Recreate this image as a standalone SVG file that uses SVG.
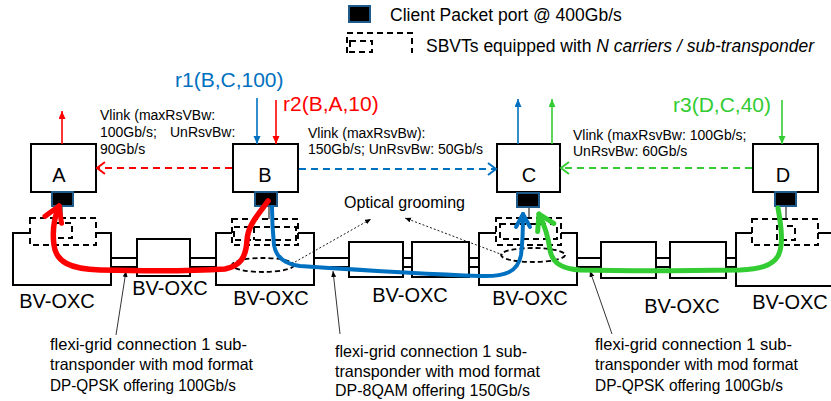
<svg xmlns="http://www.w3.org/2000/svg" width="831" height="401" viewBox="0 0 831 401">
<style>
text{font-family:"Liberation Sans",Arial,sans-serif;fill:#000;}
.box{fill:#fff;stroke:#000;stroke-width:2;}
.port{fill:#000;stroke:#1f5b8a;stroke-width:2;}
.oxc{fill:none;stroke:#000;stroke-width:2;}
.sbox{fill:#fff;stroke:#000;stroke-width:2;}
.sbvt{fill:none;stroke:#000;stroke-width:2;stroke-dasharray:6 4;}
.tick{stroke:#000;stroke-width:1;}
.nl{font-size:20px;text-anchor:middle;}
.oxl{font-size:20px;text-anchor:middle;}
.vl{font-size:14px;}
.fx{font-size:16.5px;}
.rq{font-size:21px;}
.leg{font-size:17.5px;}
.vr{stroke:#ff0000;stroke-width:1.6;fill:none;}
.vb{stroke:#0070c0;stroke-width:1.6;fill:none;}
.vg{stroke:#33cc33;stroke-width:1.6;fill:none;}
.dr{stroke:#ff0000;stroke-width:2;fill:none;stroke-dasharray:7 5;}
.db{stroke:#0070c0;stroke-width:2;fill:none;stroke-dasharray:7 5;}
.dg{stroke:#33cc33;stroke-width:2;fill:none;stroke-dasharray:7 5;}
.tr{stroke:#ff0000;stroke-width:5.5;fill:none;stroke-linecap:round;}
.tb{stroke:#0070c0;stroke-width:4;fill:none;stroke-linecap:round;}
.tg{stroke:#33cc33;stroke-width:5;fill:none;stroke-linecap:round;}
.dot{stroke:#000;stroke-width:0.9;fill:none;stroke-dasharray:2 2;}
.call{stroke:#000;stroke-width:0.8;fill:none;}
.ell{fill:none;stroke:#000;stroke-width:1.8;stroke-dasharray:5 3;}
</style>
<defs>
<marker id="triR" markerUnits="userSpaceOnUse" markerWidth="10" markerHeight="10" refX="8" refY="3.5" orient="auto"><path d="M0,0 L8,3.5 L0,7 z" fill="#ff0000"/></marker>
<marker id="triB" markerUnits="userSpaceOnUse" markerWidth="10" markerHeight="10" refX="8" refY="3.5" orient="auto"><path d="M0,0 L8,3.5 L0,7 z" fill="#0070c0"/></marker>
<marker id="triG" markerUnits="userSpaceOnUse" markerWidth="10" markerHeight="10" refX="8" refY="3.5" orient="auto"><path d="M0,0 L8,3.5 L0,7 z" fill="#33cc33"/></marker>
<marker id="triK" markerUnits="userSpaceOnUse" markerWidth="8" markerHeight="8" refX="6" refY="2.5" orient="auto"><path d="M0,0 L6,2.5 L0,5 z" fill="#000"/></marker>
<marker id="chR" markerUnits="userSpaceOnUse" markerWidth="12" markerHeight="16" refX="10" refY="7" orient="auto"><path d="M2,1 L10,7 L2,13" fill="none" stroke="#ff0000" stroke-width="2"/></marker>
<marker id="chB" markerUnits="userSpaceOnUse" markerWidth="12" markerHeight="16" refX="10" refY="7" orient="auto"><path d="M2,1 L10,7 L2,13" fill="none" stroke="#0070c0" stroke-width="2"/></marker>
<marker id="chG" markerUnits="userSpaceOnUse" markerWidth="12" markerHeight="16" refX="10" refY="7" orient="auto"><path d="M2,1 L10,7 L2,13" fill="none" stroke="#33cc33" stroke-width="2"/></marker>
<marker id="bigR" markerUnits="userSpaceOnUse" markerWidth="24" markerHeight="26" refX="19" refY="12" orient="auto"><path d="M4,3 L19,12 L4,21" fill="none" stroke="#ff0000" stroke-width="5" stroke-linecap="round" stroke-linejoin="round"/></marker>
<marker id="bigB" markerUnits="userSpaceOnUse" markerWidth="24" markerHeight="26" refX="18" refY="12" orient="auto"><path d="M5,5 L18,12 L5,19" fill="none" stroke="#0070c0" stroke-width="4" stroke-linecap="round" stroke-linejoin="round"/></marker>
<marker id="bigG" markerUnits="userSpaceOnUse" markerWidth="24" markerHeight="26" refX="19" refY="12" orient="auto"><path d="M4,3 L19,12 L4,21" fill="none" stroke="#33cc33" stroke-width="5" stroke-linecap="round" stroke-linejoin="round"/></marker>
</defs>
<rect width="831" height="401" fill="#fff"/>

<g id="legend">
<rect x="349" y="6" width="21" height="16" class="port"/>
<text x="390" y="21" class="leg">Client Packet port @ 400Gb/s</text>
<path d="M347,53 V33 H412 V53" class="sbvt"/>
<rect x="350" y="41" width="22" height="11" class="sbvt"/>
<text x="426" y="52" class="leg">SBVTs equipped with <tspan font-style="italic">N carriers / sub-transponder</tspan></text>
</g>

<g id="oxc-A">
<path d="M30,233 H13 V285 H111 V233 H96" class="oxc"/>
<rect x="30" y="218" width="66" height="27" class="sbvt"/>
<rect x="55" y="223" width="17" height="15" class="sbvt"/>
<text x="57" y="308" class="oxl">BV-OXC</text>
</g>
<g id="oxc-1">
<rect x="137" y="239" width="53" height="37" class="sbox"/>
<text x="170" y="295" class="oxl">BV-OXC</text>
</g>
<g id="oxc-B">
<path d="M232,233 H216 V285 H314 V233 H298" class="oxc"/>
<rect x="232" y="219" width="66" height="26" class="sbvt"/>
<rect x="234" y="227" width="62" height="13" class="sbvt"/>
<line x1="254" y1="227" x2="254" y2="240" class="sbvt"/>
<text x="271" y="305" class="oxl">BV-OXC</text>
</g>
<g id="oxc-2">
<rect x="349" y="242" width="54" height="35" class="sbox"/>
<rect x="412" y="242" width="57" height="35" class="sbox"/>
<text x="410" y="302" class="oxl">BV-OXC</text>
</g>
<g id="oxc-C">
<path d="M496,233 H479 V285 H577 V233 H561" class="oxc"/>
<rect x="496" y="218" width="65" height="27" class="sbvt"/>
<rect x="500" y="224" width="57" height="15" class="sbvt"/>
<text x="530" y="305" class="oxl">BV-OXC</text>
</g>
<g id="oxc-3">
<rect x="601" y="242" width="55" height="36" class="sbox"/>
<rect x="670" y="242" width="56" height="36" class="sbox"/>
<text x="682" y="313" class="oxl">BV-OXC</text>
</g>
<g id="oxc-D">
<path d="M752,233 H736 V286 H831 M818,233 H831" class="oxc"/>
<rect x="752" y="219" width="66" height="26" class="sbvt"/>
<rect x="777" y="226" width="18" height="14" class="sbvt"/>
<text x="790" y="309" class="oxl">BV-OXC</text>
</g>

<g id="node-A">
<rect x="31" y="144" width="65" height="48" class="box"/>
<text x="59" y="182" class="nl">A</text>
<rect x="52" y="192" width="21" height="14" class="port"/>
<line x1="62" y1="207" x2="62" y2="218" class="tick"/>
</g>
<g id="node-B">
<rect x="233" y="144" width="65" height="48" class="box"/>
<text x="265" y="182" class="nl">B</text>
<rect x="255" y="192" width="22" height="14" class="port"/>
<line x1="269" y1="207" x2="269" y2="219" class="tick"/>
</g>
<g id="node-C">
<rect x="497" y="144" width="63" height="48" class="box"/>
<text x="529" y="182" class="nl">C</text>
<rect x="517" y="193" width="22" height="14" class="port"/>
<line x1="529" y1="208" x2="529" y2="218" class="tick"/>
</g>
<g id="node-D">
<rect x="753" y="144" width="65" height="48" class="box"/>
<text x="783" y="182" class="nl">D</text>
<rect x="775" y="192" width="21" height="14" class="port"/>
<line x1="786" y1="207" x2="786" y2="219" class="tick"/>
</g>

<g id="connectors">
<path d="M111,258 H137 M111,267 H137 M190,258 H216 M190,267 H216 M314,258 H349 M314,267 H349 M403,258 H412 M403,267 H412 M469,258 H479 M469,267 H479 M577,258 H601 M577,267 H601 M656,258 H670 M656,267 H670 M726,258 H736 M726,267 H736" class="oxc"/>
<line x1="232" y1="168" x2="97" y2="168" class="dr" marker-end="url(#chR)"/>
<line x1="299" y1="169" x2="496" y2="169" class="db" marker-end="url(#chB)"/>
<line x1="752" y1="168" x2="561" y2="168" class="dg" marker-end="url(#chG)"/>
<line x1="62" y1="144" x2="62" y2="111" class="vr" marker-end="url(#triR)"/>
<line x1="257" y1="98" x2="257" y2="144" class="vb" marker-end="url(#triB)"/>
<line x1="276" y1="100" x2="276" y2="144" class="vr" marker-end="url(#triR)"/>
<line x1="518" y1="144" x2="518" y2="99" class="vb" marker-end="url(#triB)"/>
<line x1="552" y1="144" x2="552" y2="99" class="vg" marker-end="url(#triG)"/>
<line x1="782" y1="100" x2="782" y2="144" class="vg" marker-end="url(#triG)"/>
<ellipse cx="263" cy="265" rx="31" ry="7" class="ell"/>
<ellipse cx="533" cy="255" rx="32" ry="7" class="ell"/>
<line x1="295" y1="262" x2="371" y2="219" class="dot" marker-end="url(#triK)"/>
<line x1="503" y1="255" x2="405" y2="218" class="dot" marker-end="url(#triK)"/>
<line x1="116" y1="335" x2="126" y2="271" class="call" marker-end="url(#triK)"/>
<line x1="340" y1="334" x2="333" y2="271" class="call" marker-end="url(#triK)"/>
<line x1="612" y1="334" x2="590" y2="271" class="call" marker-end="url(#triK)"/>
<path d="M268,201 C258,215 248,225 247,240 C246,258 240,266 225,269 C180,272 140,271 100,270 C70,269 56,262 54,245 C52,230 54,218 59,206" class="tr" marker-end="url(#bigR)"/>
<path d="M272,207 C272,220 273,235 274,245 C276,258 285,264 300,266 C360,270 420,274 480,276 C505,277 518,272 521,255 C523,240 523,225 523,214" class="tb" marker-end="url(#bigB)"/>
<path d="M778,208 C781,225 784,245 778,256 C772,266 760,269 740,270 C680,271 620,271 580,270 C560,269 552,262 550,250 C548,235 543,222 539,214" class="tg" marker-end="url(#bigG)"/>
</g>

<g id="labels">
<text x="175" y="87" class="rq" style="fill:#0070c0">r1(B,C,100)</text>
<text x="283" y="111" class="rq" style="fill:#ff0000">r2(B,A,10)</text>
<text x="673" y="112" class="rq" style="fill:#33cc33">r3(D,C,40)</text>
<text class="vl"><tspan x="100" y="120">Vlink (maxRsVBw:</tspan><tspan x="100" y="137">100Gb/s;</tspan><tspan x="170" y="137">UnRsvBw:</tspan><tspan x="100" y="154">90Gb/s</tspan></text>
<text class="vl"><tspan x="308" y="138">Vlink (maxRsvBw):</tspan><tspan x="308" y="154">150Gb/s; UnRsvBw: 50Gb/s</tspan></text>
<text class="vl"><tspan x="573" y="140">Vlink (maxRsvBw: 100Gb/s;</tspan><tspan x="573" y="156">UnRsvBw: 60Gb/s</tspan></text>
<text x="344" y="208" style="font-size:16px">Optical grooming</text>
<text x="50" y="350" class="fx" textLength="197" lengthAdjust="spacingAndGlyphs">flexi-grid connection 1 sub-</text>
<text x="50" y="370" class="fx" textLength="203" lengthAdjust="spacingAndGlyphs">transponder with mod format</text>
<text x="50" y="391" class="fx" textLength="186" lengthAdjust="spacingAndGlyphs">DP-QPSK offering 100Gb/s</text>
<text x="335" y="357" class="fx" textLength="192" lengthAdjust="spacingAndGlyphs">flexi-grid connection 1 sub-</text>
<text x="335" y="377" class="fx" textLength="205" lengthAdjust="spacingAndGlyphs">transponder with mod format</text>
<text x="335" y="396" class="fx" textLength="195" lengthAdjust="spacingAndGlyphs">DP-8QAM offering 150Gb/s</text>
<text x="595" y="350" class="fx" textLength="197" lengthAdjust="spacingAndGlyphs">flexi-grid connection 1 sub-</text>
<text x="595" y="370" class="fx" textLength="203" lengthAdjust="spacingAndGlyphs">transponder with mod format</text>
<text x="595" y="391" class="fx" textLength="188" lengthAdjust="spacingAndGlyphs">DP-QPSK offering 100Gb/s</text>
</g>
</svg>
